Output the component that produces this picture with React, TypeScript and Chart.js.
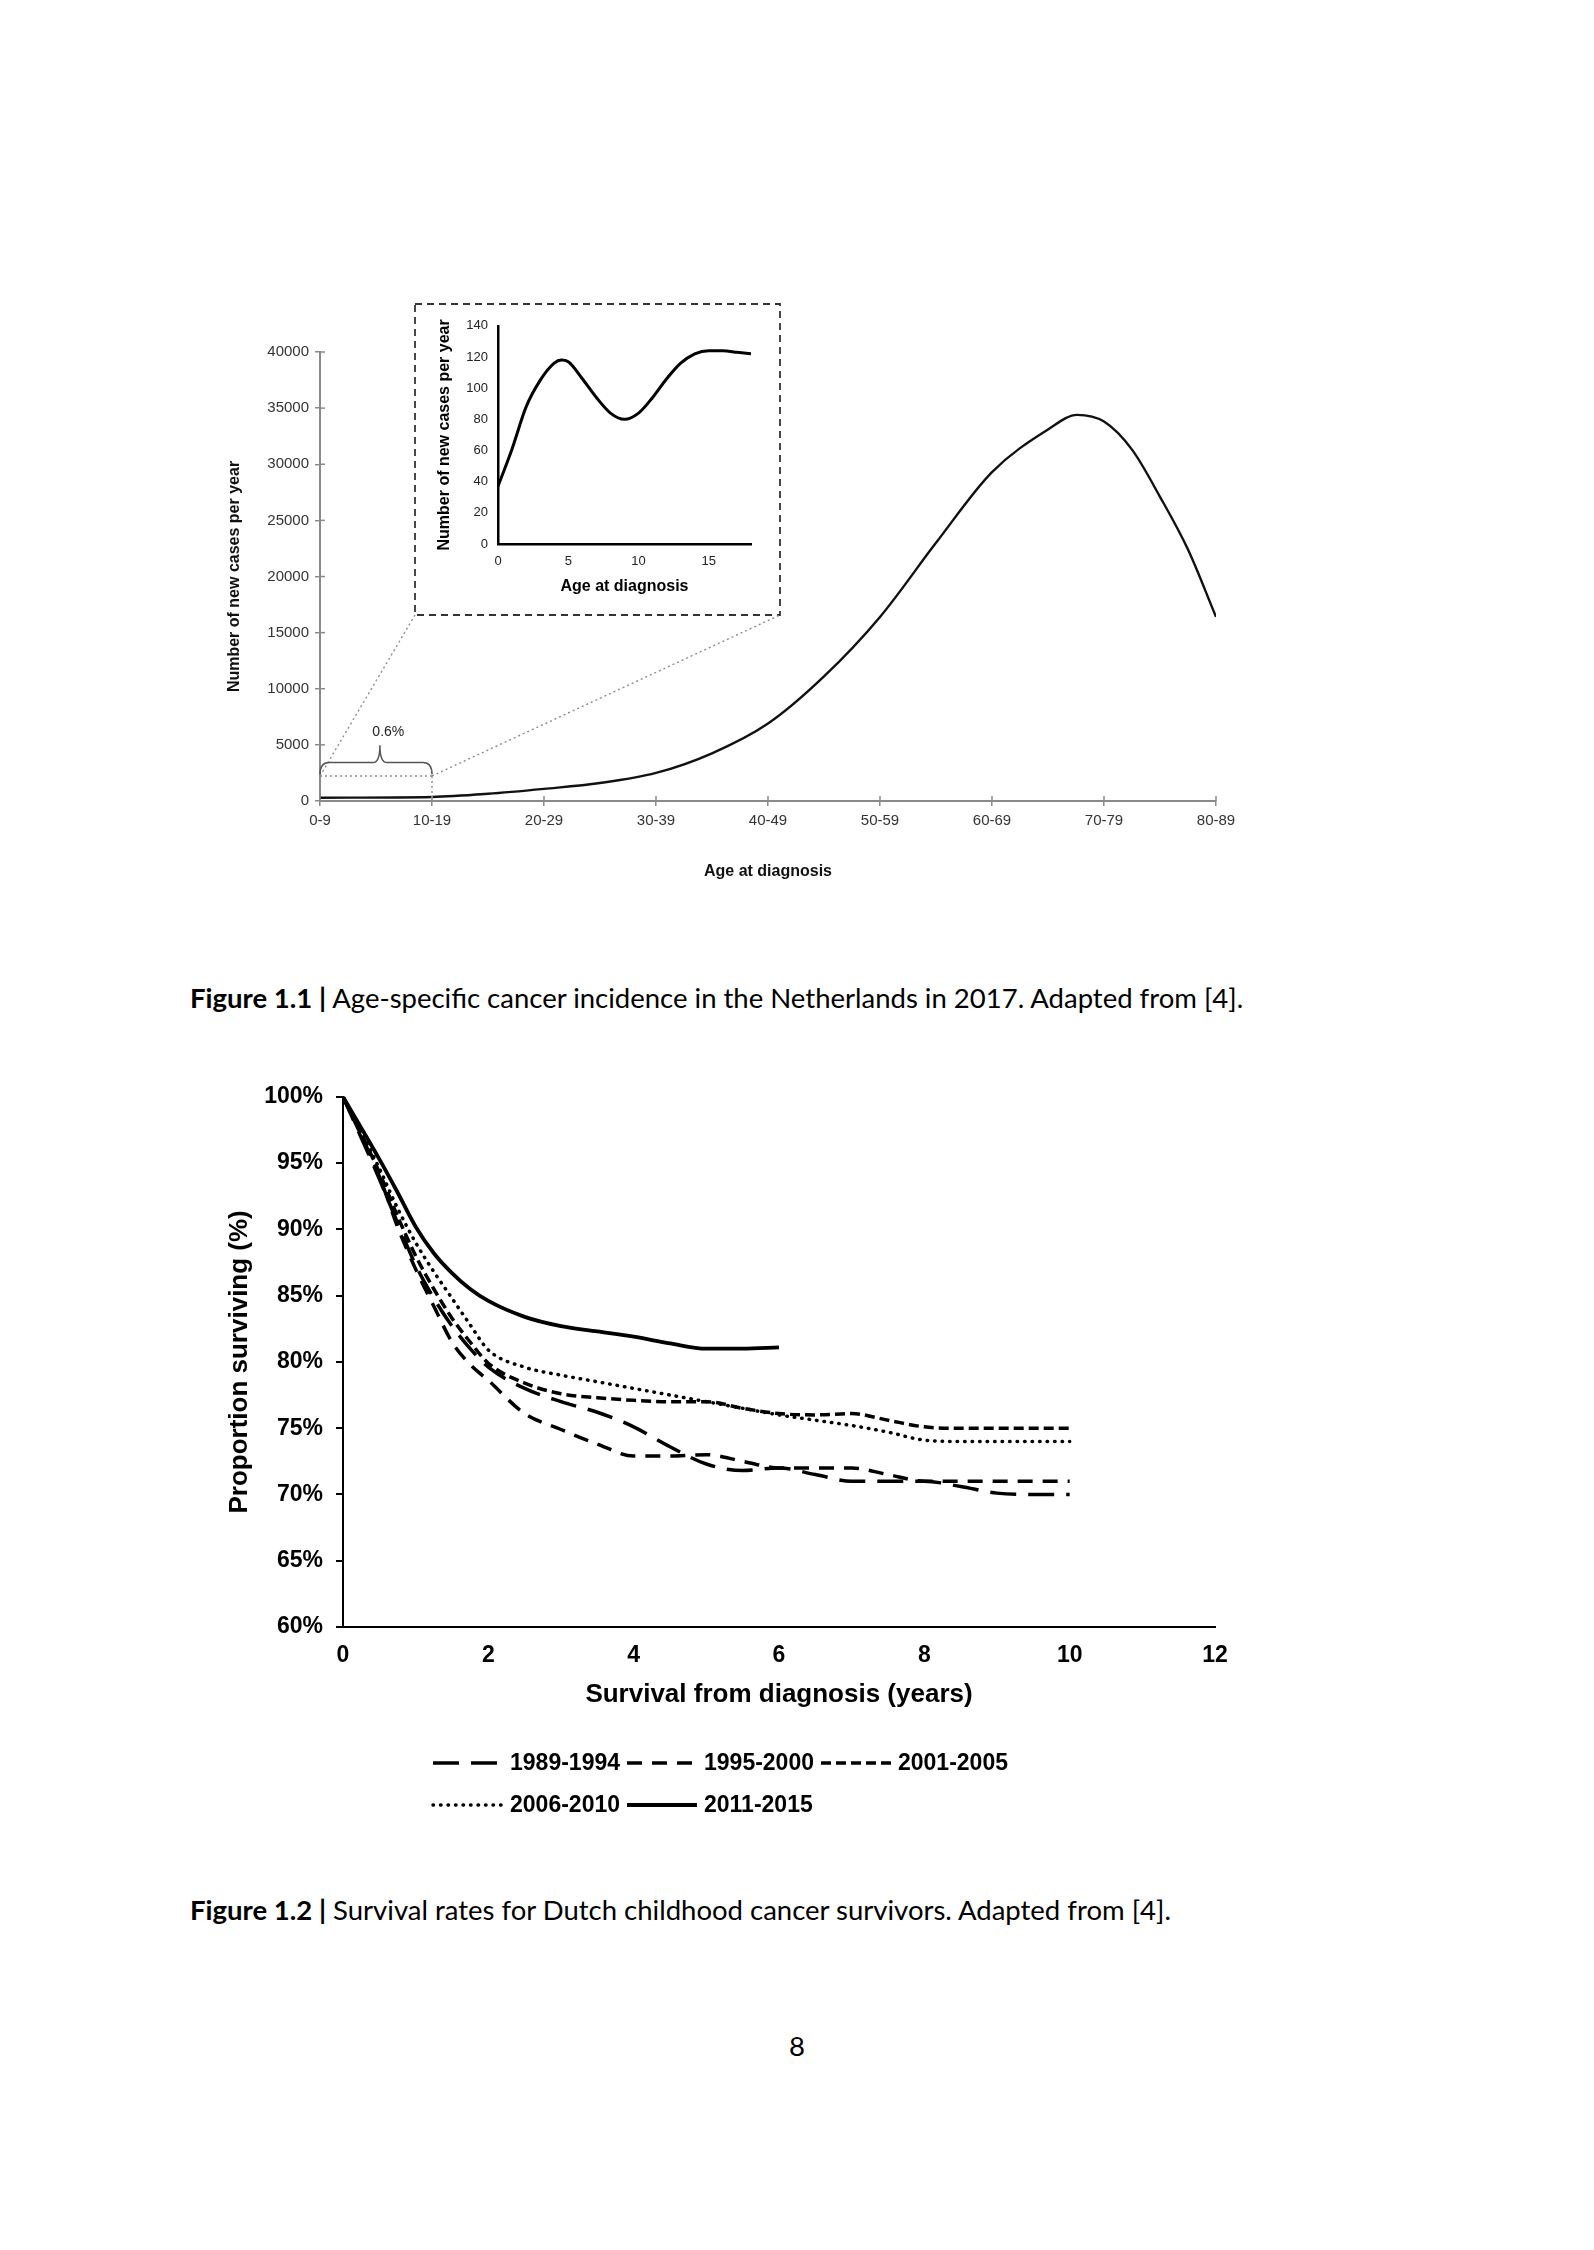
import React, { useEffect, useRef } from "react";
import { Chart, registerables } from "chart.js";

Chart.register(...registerables);

// ---------- Figure 1.1 data ----------
const ageGroups = ["0-9", "10-19", "20-29", "30-39", "40-49", "50-59", "60-69", "70-79", "80-89"];
const incidencePos = [0, 1, 1.5, 2, 2.5, 3, 3.5, 4, 4.5, 5, 5.5, 6, 6.5, 6.76, 7, 7.25, 7.5, 7.75, 8];
const incidenceCases = [290, 360, 640, 1080, 1600, 2500, 4250, 6900, 11100, 16400, 23000, 29300, 33100, 34400, 33800, 31300, 27100, 22400, 16400];
const incidenceYTicks = { min: 0, max: 40000, step: 5000 };
const calloutLevel = 2230;
const calloutLabel = "0.6%";

const insetAge = [0, 1, 2, 3, 4, 4.5, 5, 6, 7, 8, 9, 10, 11, 12, 13, 14, 15, 16, 17, 18];
const insetCases = [37, 61, 88, 105, 116, 118, 117, 106, 94, 84, 80, 84, 94, 106, 116, 122, 124, 124, 123, 122];
const insetYTicks = { min: 0, max: 140, step: 20 };
const insetXTicks = { min: 0, max: 18, step: 5 };

// ---------- Figure 1.2 data ----------
const survivalYears = [0, 0.5, 0.75, 1, 1.25, 1.5, 1.75, 2, 2.5, 3, 3.5, 4, 4.5, 5, 5.5, 6, 6.5, 7, 7.5, 8, 8.5, 9, 9.5, 10];
const cohortLabels = ["1989-1994", "1995-2000", "2001-2005", "2006-2010", "2011-2015"];
const surv1989 = [100, 93.8, 90.5, 87.3, 84.8, 82.7, 81.0, 79.6, 78.0, 77.0, 76.2, 75.1, 73.6, 72.3, 71.8, 72.0, 71.5, 71.0, 71.0, 71.0, 70.6, 70.1, 70.0, 70.0];
const surv1995 = [100, 94.0, 90.2, 87.0, 84.2, 81.5, 79.8, 78.6, 76.1, 74.9, 73.8, 72.9, 72.9, 73.0, 72.5, 72.0, 72.0, 72.0, 71.5, 71.0, 71.0, 71.0, 71.0, 71.0];
const surv2001 = [100, 94.3, 91.0, 88.0, 85.5, 83.3, 81.5, 79.9, 78.4, 77.6, 77.3, 77.1, 77.0, 77.0, 76.5, 76.1, 76.0, 76.1, 75.6, 75.1, 75.0, 75.0, 75.0, 75.0];
const surv2006 = [100, 94.6, 91.6, 89.0, 86.8, 84.8, 82.8, 80.9, 79.6, 79.0, 78.5, 78.0, 77.5, 77.0, 76.5, 76.0, 75.6, 75.2, 74.7, 74.1, 74.0, 74.0, 74.0, 74.0];
const surv2011 = [100, 95.3, 92.8, 90.2, 88.2, 86.7, 85.5, 84.6, 83.4, 82.7, 82.3, 81.9, 81.4, 81.0, 81.0, 81.1, null, null, null, null, null, null, null, null];
const survivalSeries = [surv1989, surv1995, surv2001, surv2006, surv2011];
const survivalYTicks = { min: 60, max: 100, step: 5 };
const survivalXTicks = { min: 0, max: 12, step: 2 };

// ---------- layout (page coordinates) ----------
const FONT = "'Liberation Sans', Arial, sans-serif";
const MAIN = { left: 200, top: 290, width: 1056, height: 611 };
const INSET = { left: 420, top: 308, width: 355, height: 300 };
const INSET_BOX = { left: 415, top: 304, right: 780, bottom: 615 };
const SURV = { left: 200, top: 1070, width: 1055, height: 767 };
const AXIS_GRAY = "#8a8a8a";

const cohortStyles = [
  { dash: [26, 12], cap: "butt" as CanvasLineCap },
  { dash: [15, 10], cap: "butt" as CanvasLineCap },
  { dash: [10, 5], cap: "butt" as CanvasLineCap },
  { dash: [0.5, 7], cap: "round" as CanvasLineCap },
  { dash: [], cap: "butt" as CanvasLineCap },
];

const abs = (r: { left: number; top: number; width: number; height: number }): React.CSSProperties => ({
  position: "absolute",
  left: r.left - 8,
  top: r.top - 8,
  width: r.width,
  height: r.height,
});

const mainDecor = {
  id: "mainDecor",
  afterDraw(chart: any) {
    const ctx: CanvasRenderingContext2D = chart.ctx;
    const xs = chart.scales.x;
    const ys = chart.scales.y;
    const ca = chart.chartArea;
    ctx.save();
    // inner halves of crossing tick marks
    ctx.strokeStyle = AXIS_GRAY;
    ctx.lineWidth = 1.5;
    ys.ticks.forEach((t: any) => {
      const y = ys.getPixelForValue(t.value);
      ctx.beginPath();
      ctx.moveTo(ca.left, y);
      ctx.lineTo(ca.left + 5, y);
      ctx.stroke();
    });
    xs.ticks.forEach((t: any) => {
      const x = xs.getPixelForValue(t.value);
      ctx.beginPath();
      ctx.moveTo(x, ca.bottom);
      ctx.lineTo(x, ca.bottom - 5);
      ctx.stroke();
    });

    // inset dashed box
    const bx0 = INSET_BOX.left - MAIN.left;
    const by0 = INSET_BOX.top - MAIN.top;
    const bx1 = INSET_BOX.right - MAIN.left;
    const by1 = INSET_BOX.bottom - MAIN.top;
    ctx.setLineDash([7, 5]);
    ctx.strokeStyle = "#333";
    ctx.lineWidth = 1.8;
    ctx.strokeRect(bx0, by0, bx1 - bx0, by1 - by0);

    // callout dotted lines
    const x0 = xs.getPixelForValue(0);
    const x1 = xs.getPixelForValue(1);
    const yc = ys.getPixelForValue(calloutLevel);
    const yz = ys.getPixelForValue(0);
    ctx.setLineDash([2, 3]);
    ctx.strokeStyle = "#8c8c8c";
    ctx.lineWidth = 1.4;
    ctx.beginPath();
    ctx.moveTo(x0, yc);
    ctx.lineTo(bx0, by1);
    ctx.moveTo(x1, yc);
    ctx.lineTo(bx1, by1);
    ctx.moveTo(x0, yc);
    ctx.lineTo(x1, yc);
    ctx.moveTo(x1, yc);
    ctx.lineTo(x1, yz);
    ctx.stroke();

    // brace
    ctx.setLineDash([]);
    ctx.strokeStyle = "#555";
    ctx.lineWidth = 1.5;
    const xm = xs.getPixelForValue(0.535);
    const yEnd = ys.getPixelForValue(2350);
    const yArm = ys.getPixelForValue(3420);
    const yTip = ys.getPixelForValue(4970);
    ctx.beginPath();
    ctx.moveTo(x0, yEnd);
    ctx.quadraticCurveTo(x0, yArm, x0 + 9, yArm);
    ctx.lineTo(xm - 7, yArm);
    ctx.quadraticCurveTo(xm, yArm, xm, yTip);
    ctx.quadraticCurveTo(xm, yArm, xm + 7, yArm);
    ctx.lineTo(x1 - 9, yArm);
    ctx.quadraticCurveTo(x1, yArm, x1, yEnd);
    ctx.stroke();

    ctx.fillStyle = "#222";
    ctx.font = `14px ${FONT}`;
    ctx.textAlign = "center";
    ctx.textBaseline = "middle";
    ctx.fillText(calloutLabel, xs.getPixelForValue(0.61), ys.getPixelForValue(6160));
    ctx.restore();
  },
};

const survLegend = {
  id: "survLegend",
  afterDraw(chart: any) {
    const ctx: CanvasRenderingContext2D = chart.ctx;
    const ds = chart.data.datasets;
    const ca = chart.chartArea;
    const sample = 70;
    const gap = 7;
    const itemGap = 7;
    const rows = [[0, 1, 2], [3, 4]];
    ctx.save();
    ctx.font = `bold 23px ${FONT}`;
    const rowWidth = (r: number[]) =>
      r.reduce((s, i) => s + sample + gap + ctx.measureText(ds[i].label).width, 0) + itemGap * (r.length - 1);
    const startX = chart.width / 2 - rowWidth(rows[0]) / 2 - 7;
    const rowY = [ca.bottom + 136, ca.bottom + 178];
    rows.forEach((r, ri) => {
      let x = startX;
      r.forEach((i) => {
        const y = rowY[ri];
        ctx.setLineDash(ds[i].borderDash || []);
        ctx.lineCap = ds[i].borderCapStyle || "butt";
        ctx.lineWidth = ds[i].borderWidth;
        ctx.strokeStyle = "#000";
        ctx.beginPath();
        ctx.moveTo(x, y);
        ctx.lineTo(x + sample, y);
        ctx.stroke();
        x += sample + gap;
        ctx.setLineDash([]);
        ctx.fillStyle = "#000";
        ctx.textAlign = "left";
        ctx.textBaseline = "middle";
        ctx.fillText(ds[i].label, x, y + 1);
        x += ctx.measureText(ds[i].label).width + itemGap;
      });
    });
    ctx.restore();
  },
};

export default function App() {
  const mainRef = useRef<HTMLCanvasElement>(null);
  const insetRef = useRef<HTMLCanvasElement>(null);
  const survRef = useRef<HTMLCanvasElement>(null);

  useEffect(() => {
    Chart.defaults.font.family = FONT;

    const main = new Chart(mainRef.current!, {
      type: "line",
      data: {
        datasets: [
          {
            data: incidencePos.map((x, i) => ({ x, y: incidenceCases[i] })),
            borderColor: "#111",
            borderWidth: 2.4,
            pointRadius: 0,
            cubicInterpolationMode: "monotone",
            fill: false,
          },
        ],
      },
      options: {
        animation: false,
        responsive: false,
        devicePixelRatio: 1,
        layout: { padding: { top: 62, right: 40, left: 0, bottom: 0 } },
        plugins: { legend: { display: false }, tooltip: { enabled: false } },
        scales: {
          x: {
            type: "linear",
            min: 0,
            max: ageGroups.length - 1,
            afterFit: (s: any) => {
              s.height = 100;
            },
            ticks: {
              stepSize: 1,
              autoSkip: false,
              maxRotation: 0,
              padding: 6,
              color: "#333",
              font: { size: 15, family: FONT },
              callback: (v: any) => ageGroups[v] ?? "",
            },
            grid: { drawOnChartArea: false, tickLength: 5, color: AXIS_GRAY, lineWidth: 1.5 },
            border: { color: AXIS_GRAY, width: 2 },
            title: {
              display: true,
              text: "Age at diagnosis",
              color: "#111",
              font: { size: 16, weight: "bold", family: FONT },
              padding: { top: 0, bottom: 20 },
            },
          },
          y: {
            min: incidenceYTicks.min,
            max: incidenceYTicks.max,
            afterFit: (s: any) => {
              s.width = 120;
            },
            ticks: {
              stepSize: incidenceYTicks.step,
              padding: 6,
              color: "#333",
              font: { size: 15, family: FONT },
              callback: (v: any) => String(v),
            },
            grid: { drawOnChartArea: false, tickLength: 5, color: AXIS_GRAY, lineWidth: 1.5 },
            border: { color: AXIS_GRAY, width: 2 },
            title: {
              display: true,
              text: "Number of new cases per year",
              color: "#111",
              font: { size: 16, weight: "bold", family: FONT },
              padding: { top: 25, bottom: 0 },
            },
          },
        },
      },
      plugins: [mainDecor],
    } as any);

    const inset = new Chart(insetRef.current!, {
      type: "line",
      data: {
        datasets: [
          {
            data: insetAge.map((x, i) => ({ x, y: insetCases[i] })),
            borderColor: "#000",
            borderWidth: 3,
            pointRadius: 0,
            cubicInterpolationMode: "monotone",
            fill: false,
          },
        ],
      },
      options: {
        animation: false,
        responsive: false,
        devicePixelRatio: 1,
        layout: { padding: { top: 14, right: 24, left: 0, bottom: 0 } },
        plugins: { legend: { display: false }, tooltip: { enabled: false } },
        scales: {
          x: {
            type: "linear",
            min: insetXTicks.min,
            max: insetXTicks.max,
            afterFit: (s: any) => {
              s.height = 64;
            },
            ticks: { stepSize: insetXTicks.step, includeBounds: false, padding: 10, color: "#222", font: { size: 13, family: FONT } },
            grid: { display: false, drawTicks: false },
            border: { color: "#000", width: 2.5 },
            title: {
              display: true,
              text: "Age at diagnosis",
              color: "#000",
              font: { size: 16, weight: "bold", family: FONT },
              padding: { top: 0, bottom: 12 },
            },
          },
          y: {
            min: insetYTicks.min,
            max: insetYTicks.max,
            afterFit: (s: any) => {
              s.width = 78;
            },
            ticks: { stepSize: insetYTicks.step, padding: 10, color: "#222", font: { size: 13, family: FONT } },
            grid: { display: false, drawTicks: false },
            border: { color: "#000", width: 2.5 },
            title: {
              display: true,
              text: "Number of new cases per year",
              color: "#000",
              font: { size: 16, weight: "bold", family: FONT },
              padding: { top: 15, bottom: 0 },
            },
          },
        },
      },
    } as any);

    const surv = new Chart(survRef.current!, {
      type: "line",
      data: {
        datasets: survivalSeries.map((series, k) => ({
          label: cohortLabels[k],
          data: survivalYears.map((x, i) => ({ x, y: series[i] })),
          borderColor: "#000",
          borderWidth: k === 4 ? 3.8 : 3.5,
          borderDash: cohortStyles[k].dash,
          borderCapStyle: cohortStyles[k].cap,
          pointRadius: 0,
          cubicInterpolationMode: "monotone",
          spanGaps: false,
          fill: false,
        })),
      },
      options: {
        animation: false,
        responsive: false,
        devicePixelRatio: 1,
        layout: { padding: { top: 23, right: 40, left: 0, bottom: 110 } },
        plugins: { legend: { display: false }, tooltip: { enabled: false } },
        scales: {
          x: {
            type: "linear",
            min: survivalXTicks.min,
            max: survivalXTicks.max,
            afterFit: (s: any) => {
              s.height = 100;
            },
            ticks: { stepSize: survivalXTicks.step, padding: 15, color: "#000", font: { size: 23, weight: "bold", family: FONT } },
            grid: { display: false, drawTicks: false },
            border: { color: "#000", width: 2 },
            title: {
              display: true,
              text: "Survival from diagnosis (years)",
              color: "#000",
              font: { size: 26, weight: "bold", family: FONT },
              padding: { top: 0, bottom: 17 },
            },
          },
          y: {
            min: survivalYTicks.min,
            max: survivalYTicks.max,
            afterFit: (s: any) => {
              s.width = 143;
            },
            ticks: {
              stepSize: survivalYTicks.step,
              padding: 13,
              color: "#000",
              font: { size: 23, weight: "bold", family: FONT },
              callback: (v: any) => `${v}%`,
            },
            grid: { drawOnChartArea: false, tickLength: 7, color: "#000", lineWidth: 2 },
            border: { color: "#000", width: 2 },
            title: {
              display: true,
              text: "Proportion surviving (%)",
              color: "#000",
              font: { size: 26, weight: "bold", family: FONT },
              padding: { top: 24, bottom: 0 },
            },
          },
        },
      },
      plugins: [survLegend],
    } as any);

    return () => {
      main.destroy();
      inset.destroy();
      surv.destroy();
    };
  }, []);

  const captionStyle: React.CSSProperties = {
    position: "absolute",
    left: 182,
    fontFamily: "Lato, 'Open Sans', sans-serif",
    fontSize: 27.5,
    lineHeight: "32px",
    whiteSpace: "nowrap",
    color: "#000",
  };

  return (
    <div style={{ position: "relative", width: 1578, height: 2234, background: "#fff" }}>
      <canvas ref={mainRef} width={MAIN.width} height={MAIN.height} style={abs(MAIN)} />
      <canvas ref={insetRef} width={INSET.width} height={INSET.height} style={{ ...abs(INSET), zIndex: 2 }} />
      <div style={{ ...captionStyle, top: 974 }}>
        <b>Figure 1.1 |</b> Age-specific cancer incidence in the Netherlands in 2017. Adapted from [4].
      </div>
      <canvas ref={survRef} width={SURV.width} height={SURV.height} style={abs(SURV)} />
      <div style={{ ...captionStyle, top: 1886 }}>
        <b>Figure 1.2 |</b> Survival rates for Dutch childhood cancer survivors. Adapted from [4].
      </div>
      <div
        style={{
          position: "absolute",
          left: 739,
          top: 2022,
          width: 100,
          textAlign: "center",
          fontFamily: "Lato, 'Open Sans', sans-serif",
          fontSize: 27.5,
          lineHeight: "32px",
        }}
      >
        8
      </div>
    </div>
  );
}
